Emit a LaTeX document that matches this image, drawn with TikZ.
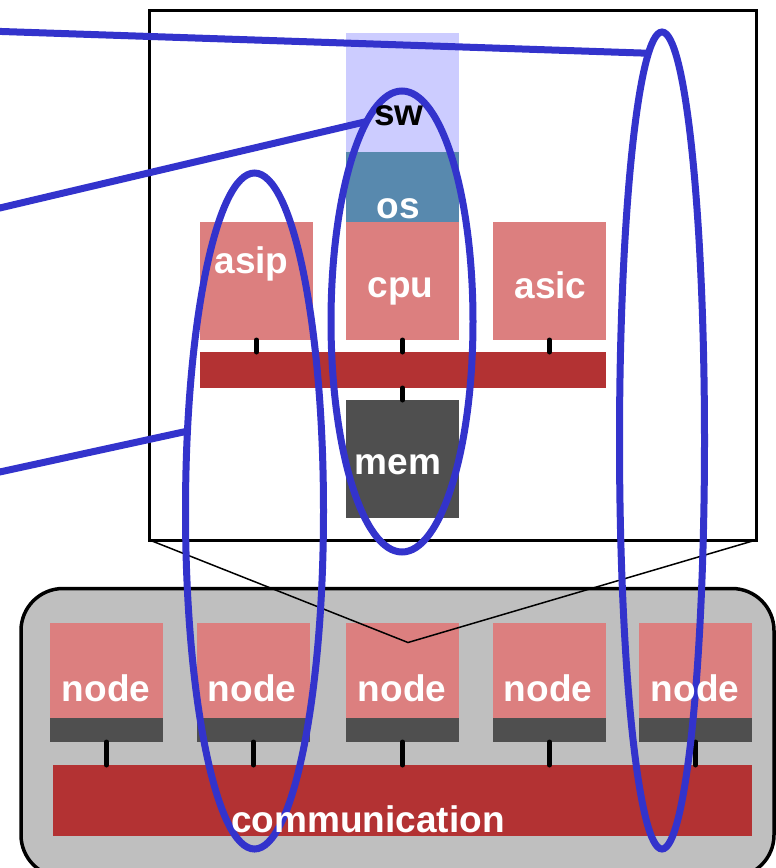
\documentclass[tikz,border=0pt]{standalone}
\usepackage{fontspec}
\setmainfont{Liberation Sans}
\usetikzlibrary{shapes.geometric}
\definecolor{salmon}{RGB}{220,127,127}
\definecolor{busred}{RGB}{179,50,51}
\definecolor{darkgr}{RGB}{79,79,79}
\definecolor{swlav}{RGB}{204,204,255}
\definecolor{osblue}{RGB}{88,137,174}
\definecolor{loopblue}{RGB}{51,51,204}
\definecolor{panelgray}{RGB}{191,191,191}
\begin{document}
\begin{tikzpicture}[x=1pt,y=-1pt,
  blk/.style={draw=none, inner sep=0pt, outer sep=0pt, anchor=north west, minimum width=113pt},
  wire/.style={line width=5pt, line cap=round},
  loop/.style={draw=loopblue, line width=7pt, ellipse, inner sep=0pt, outer sep=0pt},
  tie/.style={draw=loopblue, line width=7pt},
  lbl/.style={font=\bfseries\fontsize{37}{37}\selectfont, text=white, anchor=base, inner sep=0pt, outer sep=0pt},
]
\useasboundingbox (0,0) rectangle (776,868);
\clip (0,0) rectangle (776,868);

% chip outline
\node[draw, line width=3pt, fill=white, inner sep=0pt, outer sep=0pt, anchor=north west,
      minimum width=606.5pt, minimum height=529.5pt] (chip) at (149.5,10.5) {};

% software stack and processing elements
\node[blk, fill=swlav,  minimum height=119pt] (sw)   at (346,33)  {};
\node[blk, fill=osblue, minimum height=70pt]  (os)   at (346,152) {};
\node[blk, fill=salmon, minimum height=118pt] (cpu)  at (346,222) {};
\node[blk, fill=salmon, minimum height=118pt] (asip) at (200,222) {};
\node[blk, fill=salmon, minimum height=118pt] (asic) at (493,222) {};
\node[blk, fill=busred, minimum width=406pt, minimum height=36pt] (bus) at (200,352) {};
\node[blk, fill=darkgr, minimum height=118pt] (mem)  at (346,400) {};

\foreach \p in {asip,cpu,asic}
  \draw[wire] (\p.south) -- (\p.south |- bus.north);
\draw[wire] (bus.south -| mem.north) -- (mem.north);

% network panel
\node[draw, line width=3.5pt, fill=panelgray, rounded corners=42pt, inner sep=0pt, outer sep=0pt,
      anchor=north west, minimum width=753pt, minimum height=288.5pt] (panel) at (21,588.5) {};

\node[blk, fill=busred, minimum width=699pt, minimum height=71pt] (comm) at (53,765) {};
\foreach \i/\x in {1/50,2/197,3/346,4/493,5/639}{
  \node[blk, fill=salmon, minimum height=95pt] (n\i)  at (\x,623) {};
  \node[blk, fill=darkgr, minimum height=24pt] (n\i b) at (\x,718) {};
  \draw[wire] (n\i b.south) -- (n\i b.south |- comm.north);
}

% zoom lines from chip to the middle node
\coordinate (apex) at (408,642.5);
\draw[line width=1.5pt] (chip.south west) -- (apex) -- (chip.south east);

% grouping loops
\node[loop, minimum width=138pt, minimum height=676pt] (loopL) at (254.5,511) {};
\node[loop, minimum width=142pt, minimum height=461pt] (loopC) at (402,321.5) {};
\node[loop, minimum width=85pt,  minimum height=817pt] (loopR) at (662,440.5) {};

\coordinate (e1) at (-4,31.3);
\coordinate (e2) at (-4,208.9);
\coordinate (e3) at (-4,472.8);
\draw[tie] (e1) -- (loopR.92.5);
\draw[tie] (e2) -- (loopC.100);
\draw[tie] (e3) -- (loopL.130);

% labels
\node[lbl, text=black] (tsw) at (399,125) {sw};
\node[lbl] (tos)   at (398.5,218) {os};
\node[lbl] (tasip) at (251.5,273) {asip};
\node[lbl] (tcpu)  at (400.5,297) {cpu};
\node[lbl] (tasic) at (550.5,298) {asic};
\node[lbl] (tmem)  at (398,474)   {mem};
\foreach \i/\x in {1/106,2/252,3/402,4/548,5/695}
  \node[lbl] (tn\i) at (\x,701.5) {node};
\node[lbl] (tcomm) at (368,832) {communication};
\end{tikzpicture}
\end{document}
